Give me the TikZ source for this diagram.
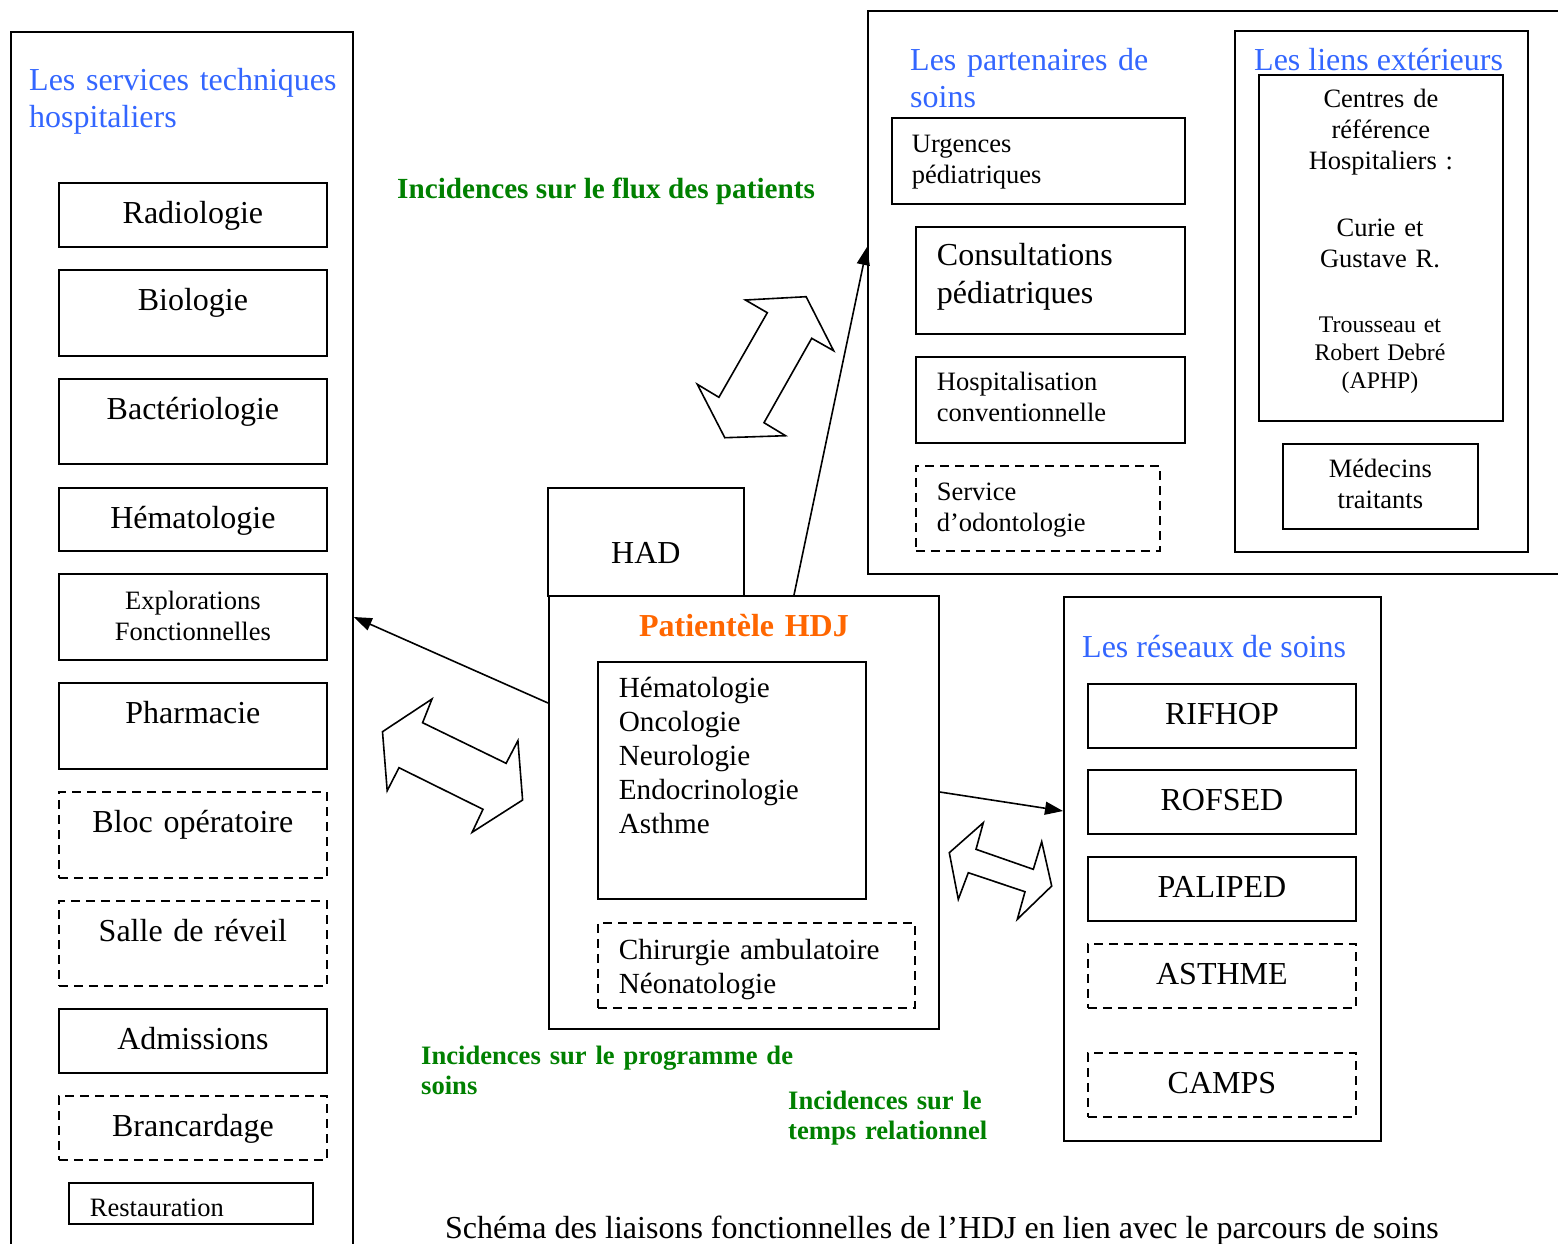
\documentclass[tikz,border=0pt]{standalone}
\usepackage{fontspec}
\setmainfont{Liberation Serif}
\usepackage{tikz}
\usetikzlibrary{arrows.meta, positioning, calc}
\definecolor{hdjBlue}{RGB}{51,102,255}
\definecolor{hdjGreen}{RGB}{0,128,0}
\definecolor{hdjOrange}{RGB}{255,102,0}
\newcommand{\fsBig}{\fontsize{32}{37.5}\selectfont}
\newcommand{\fsMed}{\fontsize{26.5}{31}\selectfont}
\newcommand{\fsList}{\fontsize{29.2}{34}\selectfont}
\newcommand{\fsGreen}{\fontsize{26.6}{30.5}\selectfont}
\newcommand{\fsSmall}{\fontsize{23.8}{28}\selectfont}

\begin{document}
\begin{tikzpicture}[x=1pt, y=-1pt, font=\fsBig,
  frame/.style={draw, line width=1.8pt, inner sep=0pt, anchor=north west},
  cell/.style n args={3}{frame, align=center, text width=#1pt,
                         text height=#3pt, text depth=#2pt-#3pt},
  lcell/.style n args={4}{cell={#1}{#2}{#3}, align=left,
                          inner xsep=#4pt, text width=#1pt-2*#4pt},
  dashbox/.style={dash pattern=on 9pt off 6pt},
  title/.style={text=hdjBlue, inner sep=0pt, anchor=base west, align=left},
  impact/.style={text=hdjGreen, inner sep=0pt, anchor=base west, align=left},
  link/.style={-{Triangle[length=18pt, width=13pt]}, line width=1.6pt},
  twoway/.style={draw, line width=1.6pt, fill=white}]
\useasboundingbox (0,0) rectangle (1558,1243);

% Services techniques
\node[frame, minimum width=342pt, minimum height=1240pt] (svc) at (10,31) {};
\node[title, text width=320pt] (svcT) at (29,90) {Les services techniques\\hospitaliers};
\foreach \yy/\hh/\id/\lbl/\lst in {182/64/radio/Radiologie/solid,
   269/86/bio/Biologie/solid, 378/85/bact/Bactériologie/solid,
   487/63/hema/Hématologie/solid, 682/86/pharma/Pharmacie/solid,
   791/86/bloc/Bloc opératoire/dashbox, 900/85/reveil/Salle de réveil/dashbox,
   1008/64/admis/Admissions/solid, 1095/64/branc/Brancardage/dashbox}
  \node[cell={268}{\hh}{41}, \lst] (\id) at (58,\yy) {\lbl};
\node[cell={268}{86}{36}, font=\fsMed] (explo) at (58,573) {Explorations\\Fonctionnelles};
\node[lcell={244}{41}{34}{21}, font=\fsMed] (resto) at (68,1182) {Restauration};

% Partenaires et liens
\node[frame, minimum width=800pt, minimum height=563pt] (part) at (867,10) {};
\node[title, text width=260pt] (partT) at (910,70) {Les partenaires de\\soins};
\node[lcell={293}{86}{35}{20}, font=\fsMed] (urg) at (891,117) {Urgences\\pédiatriques};
\node[lcell={269}{107}{39}{21}] (consult) at (915,226) {Consultations\\pédiatriques};
\node[lcell={269}{86}{34}{21}, font=\fsMed] (hospi) at (915,356) {Hospitalisation\\conventionnelle};
\node[lcell={244}{85}{35}{21}, dashbox, font=\fsMed] (odonto) at (915,465) {Service\\d’odontologie};

\node[frame, minimum width=293pt, minimum height=521pt] (liens) at (1234,30) {};
\node[cell={244}{346}{33}, font=\fsMed] (centres) at (1258,74) {Centres de\\référence\\Hospitaliers :};
\node[title] (liensT) at (1254,70) {Les liens extérieurs};
\node[inner sep=0pt, anchor=base, text width=220pt, align=center, font=\fsMed] (curie) at (1380,236) {Curie et\\Gustave R.};
\node[inner sep=0pt, anchor=base, text width=220pt, align=center, font=\fsSmall] (trous) at (1380,332) {Trousseau et\\Robert Debré\\(APHP)};
\node[cell={195}{85}{34}, font=\fsMed] (medecins) at (1282,443) {Médecins\\traitants};

% HDJ
\node[cell={196}{108}{76}] (had) at (547,487) {HAD};
\node[cell={390}{433}{41}, text=hdjOrange, font=\fsBig\bfseries] (hdj) at (548,595) {Patientèle HDJ};
\node[lcell={268}{237}{36}{21}, font=\fsList] (patho) at (597,661) {Hématologie\\Oncologie\\Neurologie\\Endocrinologie\\Asthme};
\node[lcell={317}{85}{37}{21}, dashbox, font=\fsList] (chir) at (597,922) {Chirurgie ambulatoire\\Néonatologie};

% Reseaux
\node[frame, minimum width=317pt, minimum height=544pt] (res) at (1063,596) {};
\node[title] (resT) at (1082,657) {Les réseaux de soins};
\foreach \yy/\id/\lbl/\lst in {683/rifhop/RIFHOP/solid, 769/rofsed/ROFSED/solid,
   856/paliped/PALIPED/solid, 943/asthme/ASTHME/dashbox, 1052/camps/CAMPS/dashbox}
  \node[cell={268}{64}{41}, \lst] (\id) at (1087,\yy) {\lbl};

% Incidences
\node[impact, font=\fsList\bfseries] (flux) at (397,198) {Incidences sur le flux des patients};
\node[impact, font=\fsGreen\bfseries, text width=400pt] (prog) at (421,1064) {Incidences sur le programme de\\soins};
\node[impact, font=\fsGreen\bfseries, text width=260pt] (temps) at (788,1109) {Incidences sur le\\temps relationnel};

\draw[link] ([yshift=-108pt]hdj.north west) -- ([yshift=-586pt]svc.north east);
\draw[link] ([xshift=246pt]hdj.north west) -- ([yshift=-237pt]part.north west);
\draw[link] ([yshift=-197pt]hdj.north east) -- ([yshift=-215pt]res.north west);

\draw[twoway] (432,699) -- (422.6,722.7) -- (506.1,763.3) -- (517.9,740.7) -- (522.6,800)
  -- (472.1,832.3) -- (483,809.3) -- (399,767.7) -- (387.2,790.7) -- (382.5,731.7) -- cycle;
\draw[twoway] (745.4,300) -- (767.3,312.7) -- (718.9,397.3) -- (697.3,384.3) -- (724.8,437.7)
  -- (785.5,435.7) -- (764,422.7) -- (811.7,338.3) -- (833.6,350.7) -- (806.1,296.7) -- cycle;
\draw[twoway] (983.3,822.7) -- (976,849.3) -- (1033.3,869.3) -- (1041.7,841.7) -- (1051.7,886)
  -- (1017.3,919.3) -- (1025,891.7) -- (968.3,872.7) -- (958.3,899.3) -- (949.3,852.7) -- cycle;

\node[inner sep=0pt, anchor=base west] (caption) at (445,1238) {Schéma des liaisons fonctionnelles de l’HDJ en lien avec le parcours de soins};
\end{tikzpicture}
\end{document}
